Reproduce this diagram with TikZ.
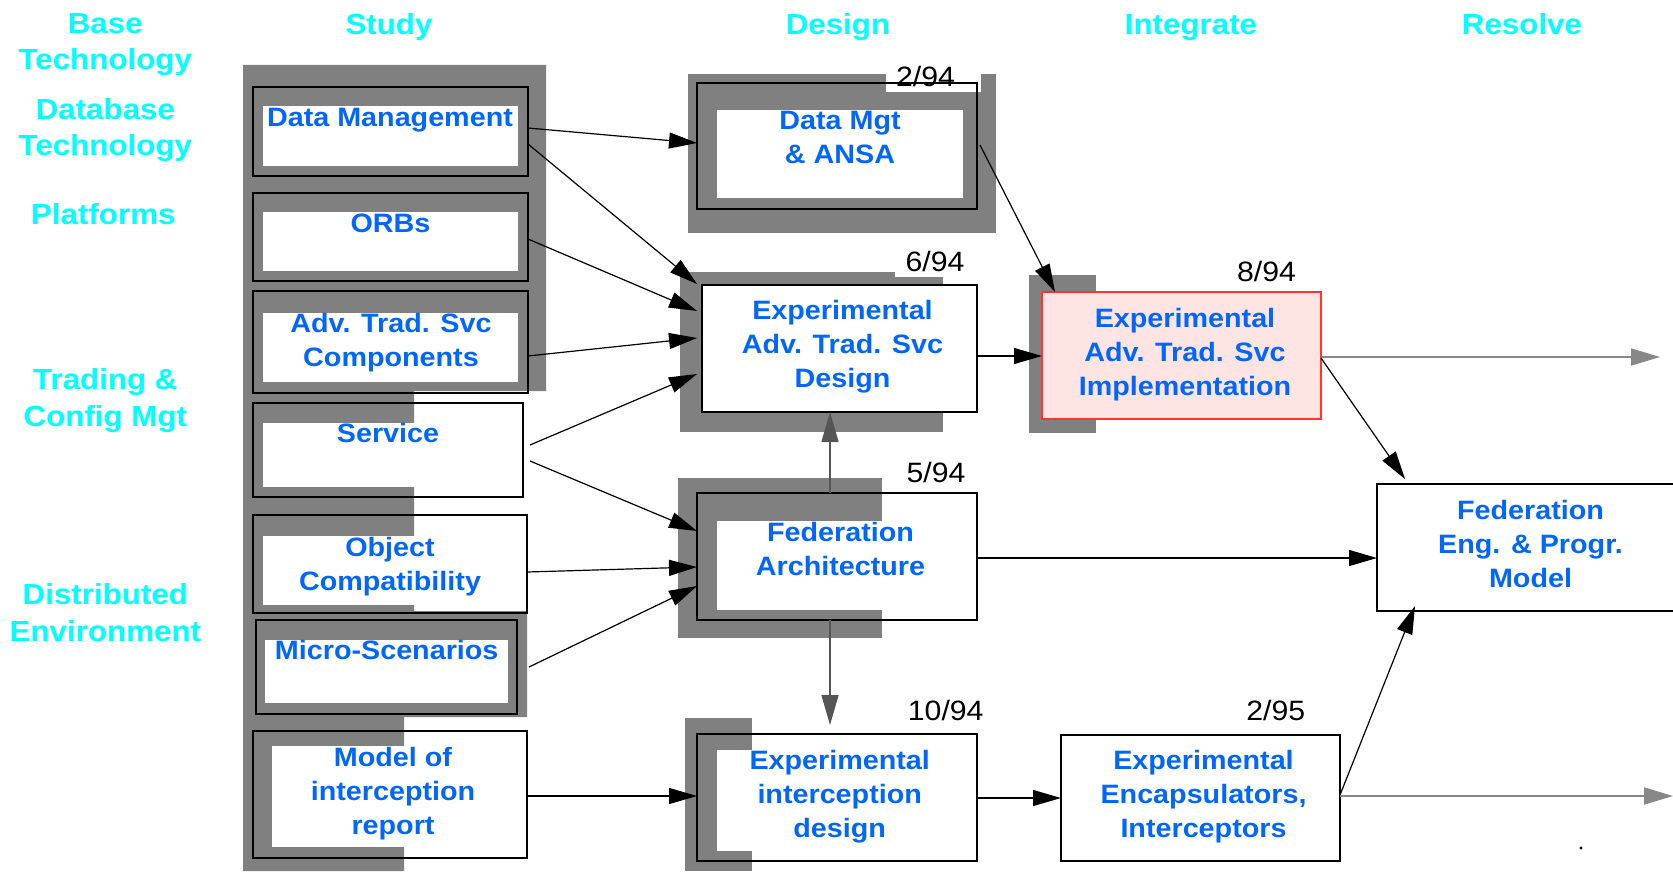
\documentclass[tikz,border=0pt]{standalone}
\usepackage{fontspec}
\setmainfont{Liberation Sans}[FakeStretch=1.08]
\usetikzlibrary{arrows.meta,fit,calc}
\definecolor{tblue}{RGB}{0,102,255}
\definecolor{tcyan}{RGB}{0,255,255}
\definecolor{pgray}{RGB}{128,128,128}
\definecolor{agray}{RGB}{85,85,85}
\definecolor{lgray}{RGB}{136,136,136}
\definecolor{pinkfill}{RGB}{255,228,228}
\definecolor{redline}{RGB}{255,51,51}
\tikzset{
 shadefill/.style={fill=pgray, draw=none},
 hole/.style={fill=white, draw=none},
 box/.style={draw=black, line width=0.7pt, inner sep=0pt, outer sep=0pt},
 btext/.style={text=tblue, font=\fontsize{13.3}{17}\selectfont\bfseries, align=center, inner sep=0pt},
 ctext/.style={text=tcyan, font=\fontsize{14.5}{18.25}\selectfont\bfseries, align=center, inner sep=0pt},
 num/.style={text=black, font=\fontsize{14}{17}\selectfont, inner sep=0pt, anchor=base},
 arr/.style={draw=black, line width=0.6pt, -{Triangle[length=14pt,width=8pt]}},
 garr/.style={draw=lgray, line width=0.9pt, -{Triangle[length=14.5pt,width=8.5pt]}},
 darr/.style={draw=agray, line width=0.7pt, -{Triangle[length=15pt,width=8.5pt]}},
}
\begin{document}
\begin{tikzpicture}[x=0.5pt,y=-0.5pt]
\useasboundingbox (0,0) rectangle (1673,872);
% ---------- gray progress regions ----------
\fill[shadefill] (243,65) -- (546,65) -- (546,391) -- (414,391) -- (414,611) -- (527,611)
  -- (527,717) -- (404,717) -- (404,871) -- (243,871) -- cycle;
\fill[shadefill] (688,74) rectangle (996,233);
\fill[shadefill] (680,272) rectangle (943,432);
\fill[shadefill] (678,478) rectangle (882,638);
\fill[shadefill] (685,718) rectangle (752,871);
\fill[shadefill] (1029,275) rectangle (1096,433);
% ---------- inner white areas ----------
\fill[hole] (263,106) rectangle (518,166);
\fill[hole] (263,212) rectangle (518,271);
\fill[hole] (263,313) rectangle (518,382);
\fill[hole] (263,423) rectangle (513,487);
\fill[hole] (263,536) rectangle (517,605);
\fill[hole] (265,640) rectangle (508,703);
\fill[hole] (272,746) rectangle (517,847);
\fill[hole] (717,110) rectangle (963,198);
\fill[hole] (717,521) rectangle (967,610);
\fill[hole] (717,750) rectangle (967,851);
% white behind date labels
\fill[hole] (886,74) rectangle (981,92);
\fill[hole] (895,255) rectangle (950,277);
% ---------- boxes ----------
\node[box, fit={(253,87) (528,176)}] (dm) {};
\node[box, fit={(253,193) (528,281)}] (orbs) {};
\node[box, fit={(253,291) (528,393)}] (atsc) {};
\node[box, fit={(253,403) (523,497)}] (svc) {};
\node[box, fit={(253,515) (527,613)}] (obj) {};
\node[box, fit={(256,620) (517,714)}] (micro) {};
\node[box, fit={(253,731) (527,858)}] (model) {};
\node[box, fit={(697,83) (977,209)}] (dma) {};
\node[box, fill=white, fit={(702,285) (977,412)}] (des) {};
\node[box, fit={(697,493) (977,620)}] (fed) {};
\node[box, fit={(697,734) (977,861)}] (eid) {};
\node[box, draw=redline, fill=pinkfill, fit={(1042,292) (1321,419)}] (impl) {};
\node[box, fill=white, fit={(1061,735) (1340,861)}] (encaps) {};
\node[box, fill=white, fit={(1377,484) (1700,611)}] (fedeng) {};
% ---------- helper coordinates ----------
\coordinate (desin) at ([xshift=-2.5pt]des.west);
\coordinate (svcout) at ([xshift=3.5pt]svc.east);
\coordinate (microout) at ([xshift=6pt]micro.east);
\coordinate (eidtop) at ([yshift=4.5pt]eid.north);
\coordinate (out1) at (1660,357);
\coordinate (out2) at (1673,796);
% ---------- connectors ----------
\draw[arr] (dm.east |- 0,128) -- (dma.west |- 0,143);
\draw[arr] (dm.east |- 0,144) -- (desin |- 0,284);
\draw[arr] (orbs.east |- 0,239) -- (desin |- 0,311);
\draw[arr] (atsc.east |- 0,356) -- (desin |- 0,338);
\draw[arr] (svcout |- 0,445) -- (desin |- 0,374);
\draw[arr] (svcout |- 0,461) -- (fed.west |- 0,531);
\draw[arr] (obj.east |- 0,572) -- (fed.west |- 0,567);
\draw[arr] (microout |- 0,667) -- (fed.west |- 0,586);
\draw[arr] (model.east |- 0,796) -- (eid.west |- 0,796);
\draw[arr] (des.east |- 0,356) -- (impl.west |- 0,356);
\draw[arr] ($(dma.east)+(3,-1)$) -- ($(impl.north west)+(13,0)$);
\draw[garr] (impl.east |- 0,357) -- (out1);
\draw[arr] (impl.east |- 0,358) -- ($(fedeng.north west)+(28,-5)$);
\draw[arr] (fed.east |- 0,558) -- (fedeng.west |- 0,558);
\draw[arr] (eid.east |- 0,798) -- (encaps.west |- 0,798);
\draw[arr] (encaps.east |- 0,795) -- ($(fedeng.south west)+(38,-5)$);
\draw[garr] (encaps.east |- 0,796) -- (out2);
\draw[darr] (fed.north -| 830,0) -- (des.south -| 830,0);
\draw[darr] (fed.south -| 830,0) -- (eidtop -| 830,0);
\fill (1581,848) circle[radius=0.8pt];
% ---------- column headers and row labels ----------
\node[ctext, anchor=base] (h1) at (389,34.3) {Study};
\node[ctext, anchor=base] (h2) at (838,34.3) {Design};
\node[ctext, anchor=base] (h3) at (1191,34.3) {Integrate};
\node[ctext, anchor=base] (h4) at (1522,34.3) {Resolve};
\node[ctext] (r1) at (105.3,44.5) {Base\\Technology};
\node[ctext] (r2) at (105.4,130.3) {Database\\Technology};
\node[ctext, anchor=base] (r3) at (103.3,224) {Platforms};
\node[ctext] (r4) at (105.4,400.7) {Trading \&\\Config Mgt};
\node[ctext] (r5) at (105.4,612.7) {Distributed\\Environment};
% ---------- box texts ----------
\node[btext, anchor=base] (tdm) at (390,126.5) {Data Management};
\node[btext, anchor=base] (torbs) at (390.5,232.5) {ORBs};
\node[btext] (tatsc) at (391,342.6) {Adv. Trad. Svc\\Components};
\node[btext, anchor=base] (tsvc) at (388,442.8) {Service};
\node[btext] (tobj) at (390,566.6) {Object\\Compatibility};
\node[btext, anchor=base] (tmicro) at (386.7,659.8) {Micro-Scenarios};
\node[btext] (tmodel) at (393,793.6) {Model of\\interception\\report};
\node[btext] (tdma) at (840,137.2) {Data Mgt\\\& ANSA};
\node[btext] (tdes) at (842.5,346.6) {Experimental\\Adv. Trad. Svc\\Design};
\node[btext] (tfed) at (840.5,549) {Federation\\Architecture};
\node[btext] (teid) at (839.7,797.1) {Experimental\\interception\\design};
\node[btext] (timpl) at (1185,354.4) {Experimental\\Adv. Trad. Svc\\Implementation};
\node[btext] (tenc) at (1203.5,797.1) {Experimental\\Encapsulators,\\Interceptors};
\node[btext] (tfe) at (1530.5,543.6) {Federation\\Eng. \& Progr.\\Model};
% ---------- dates ----------
\node[num] (d1) at (925.5,86.7) {2/94};
\node[num] (d2) at (935,271.7) {6/94};
\node[num] (d3) at (936,482.7) {5/94};
\node[num] (d4) at (945.7,720) {10/94};
\node[num] (d5) at (1266.5,281.7) {8/94};
\node[num] (d6) at (1275.8,720.7) {2/95};
\end{tikzpicture}
\end{document}
